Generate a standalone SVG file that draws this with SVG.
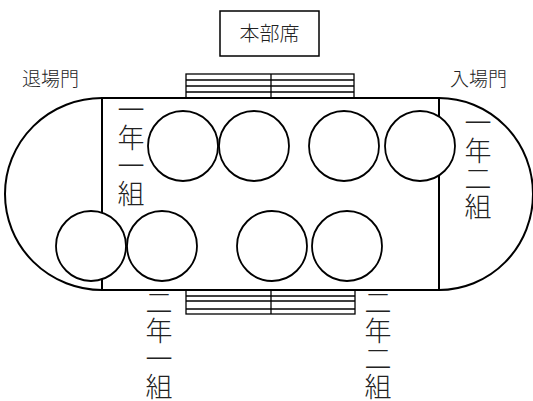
<svg xmlns="http://www.w3.org/2000/svg" width="533" height="401" viewBox="0 0 533 401">
<style>
.ln{fill:none;stroke:#000;stroke-width:2}
.c{fill:#fff;stroke:#000;stroke-width:1.8}
.st{fill:none;stroke:#000;stroke-width:1.3}
.t{font-family:"Noto Sans CJK JP","Noto Sans CJK SC",sans-serif;fill:#222;font-weight:300}
.h{font-size:19px}
.v{font-size:27px;text-anchor:middle;writing-mode:vertical-rl;letter-spacing:1px}
</style>
<rect width="533" height="401" fill="#fff"/>
<g id="track">
<path class="ln" d="M102,98 L439,98 A94,96 0 0 1 439,290 L102,290 A97,96 0 0 1 102,98 Z"/>
<line class="ln" x1="102" y1="98" x2="102" y2="290"/>
<line class="ln" x1="439" y1="98" x2="439" y2="290"/>
</g>
<g id="stand-top">
<rect class="st" x="186" y="74" width="168" height="24"/>
<line class="st" x1="186" y1="80" x2="354" y2="80"/>
<line class="st" x1="186" y1="86" x2="354" y2="86"/>
<line class="st" x1="186" y1="92" x2="354" y2="92"/>
<line class="st" x1="271" y1="74" x2="271" y2="98"/>
</g>
<g id="stand-bottom">
<rect class="st" x="186" y="290" width="169" height="24"/>
<line class="st" x1="186" y1="296" x2="355" y2="296"/>
<line class="st" x1="186" y1="301" x2="355" y2="301"/>
<line class="st" x1="186" y1="309" x2="355" y2="309" stroke-width="2"/>
<line class="st" x1="271" y1="290" x2="271" y2="314"/>
</g>
<g id="honbu">
<rect x="220" y="11" width="99" height="45" fill="#fff" stroke="#000" stroke-width="1.5"/>
<text class="t" x="269.5" y="41" font-size="20" text-anchor="middle">本部席</text>
</g>
<g id="circles">
<circle class="c" cx="183" cy="146" r="35"/>
<circle class="c" cx="254" cy="146" r="35"/>
<circle class="c" cx="344" cy="146" r="35"/>
<circle class="c" cx="420" cy="146" r="35"/>
<circle class="c" cx="91" cy="246" r="35"/>
<circle class="c" cx="162" cy="246" r="35"/>
<circle class="c" cx="272" cy="246" r="35"/>
<circle class="c" cx="347" cy="246" r="35"/>
</g>
<g id="exit-gate"><text class="t h" x="22" y="86">退場門</text></g>
<g id="entry-gate"><text class="t h" x="450" y="86">入場門</text></g>
<g id="label-1-1"><text class="t v" x="131" y="152">一年一組</text></g>
<g id="label-1-2"><text class="t v" x="478" y="165">一年二組</text></g>
<g id="label-2-1"><text class="t v" x="159" y="345">二年一組</text></g>
<g id="label-2-2"><text class="t v" x="378" y="345">二年二組</text></g>
</svg>
